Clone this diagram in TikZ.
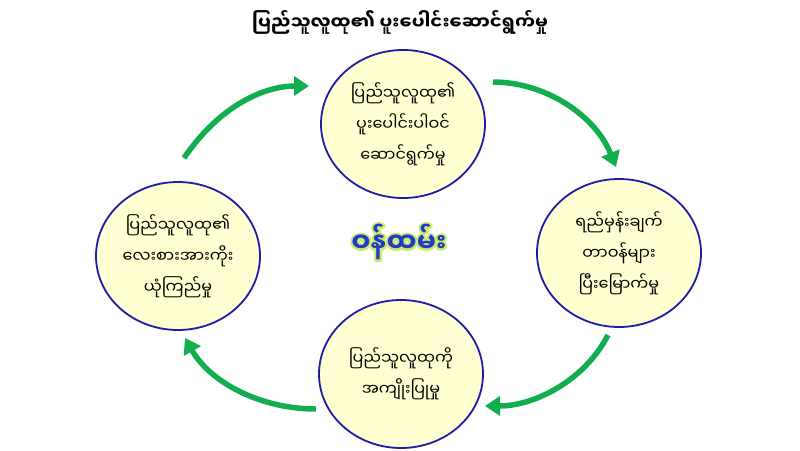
\documentclass[tikz,border=0pt]{standalone}
\usepackage{fontspec}
\usetikzlibrary{shapes.geometric,arrows.meta}
\newfontfamily\mmfont[Script=Myanmar]{Noto Sans Myanmar UI}
\definecolor{ringblue}{HTML}{1C1CA8}
\definecolor{ringfill}{HTML}{FFFFD2}
\definecolor{arrowgreen}{HTML}{12AD4F}
\definecolor{midblue}{HTML}{1F3CC4}
\definecolor{midglow}{HTML}{CDEB6E}
% outlined text for the halo
\newcommand\halotext[1]{\special{pdf:literal direct 1 Tr 4.5 w 1 j}#1\special{pdf:literal direct 0 Tr}}
\begin{document}
\begin{tikzpicture}[x=1pt, y=-1pt,
    ring/.style = {ellipse, draw=ringblue, fill=ringfill, line width=1.8pt,
      minimum width=164pt, minimum height=148pt, inner sep=0pt, align=center,
      font=\mmfont\fontsize{16}{31}\selectfont},
    cycle/.style = {draw=arrowgreen, line width=5.5pt,
      -{Triangle[length=15pt, width=19pt]}},
    midtxt/.style = {font=\mmfont\bfseries\fontsize{27}{30}\selectfont}
  ]
  \useasboundingbox (0,0) rectangle (800,450);
  \node [font=\mmfont\bfseries\fontsize{18}{20}\selectfont] (title) at (400,22)
    {ပြည်သူလူထု၏ ပူးပေါင်းဆောင်ရွက်မှု};
  \node [ring] (pTop) at (403,124) {ပြည်သူလူထု၏\\ပူးပေါင်းပါဝင်\\ဆောင်ရွက်မှု};
  \node [ring] (pRight) at (619,253) {ရည်မှန်းချက်\\တာဝန်များ\\ပြီးမြောက်မှု};
  \node [ring] (pBottom) at (401,374) {ပြည်သူလူထုကို\\အကျိုးပြုမှု};
  \node [ring] (pLeft) at (178,256) {ပြည်သူလူထု၏\\လေးစားအားကိုး\\ယုံကြည်မှု};
  % halo round the centre word
  \node [midtxt, text=midglow] (glow) at (399,242) {\halotext{ဝန်ထမ်း}};
  \node [midtxt, text=midblue] (mid) at (399,242) {ဝန်ထမ်း};
  \coordinate (a1) at (184,158);  \coordinate (b1) at (309,86);
  \coordinate (a2) at (493,82);   \coordinate (b2) at (616,167);
  \coordinate (a3) at (608,335);  \coordinate (b3) at (485,406);
  \coordinate (a4) at (316,409);  \coordinate (b4) at (185,338);
  \draw [cycle] (a1) .. controls (220,105) and (265,86) .. (b1);
  \draw [cycle] (a2) .. controls (545,82) and (595,115) .. (b2);
  \draw [cycle] (a3) .. controls (585,380) and (535,406) .. (b3);
  \draw [cycle] (a4) .. controls (260,409) and (210,382) .. (b4);
\end{tikzpicture}
\end{document}
